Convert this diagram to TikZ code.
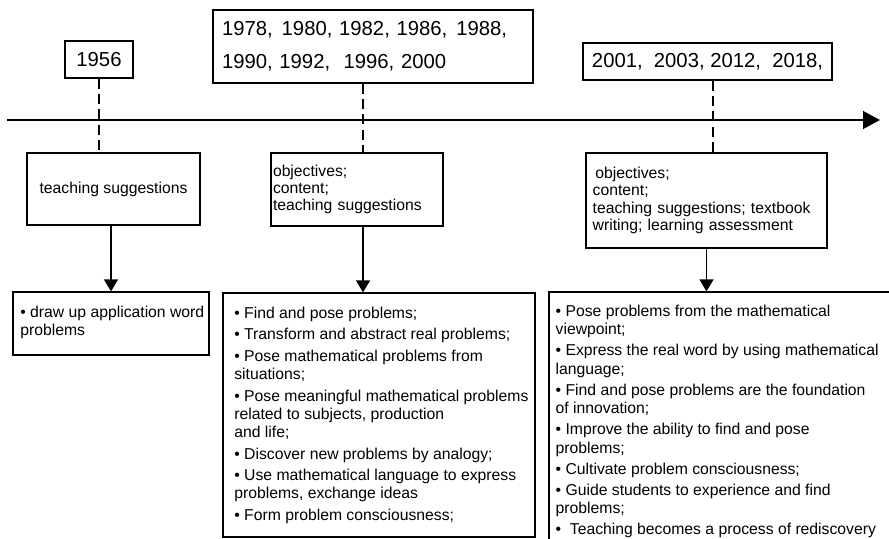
\documentclass[tikz,border=0pt]{standalone}
\usepackage{fontspec}
\setmainfont{Liberation Sans}
\usetikzlibrary{positioning,arrows.meta}

\begin{document}
\begin{tikzpicture}[x=0.75pt, y=-0.75pt, line width=0.9pt,
	every node/.style={font=\fontsize{11.8}{13}\selectfont},
	yr/.style={draw, font=\fontsize{15.2}{24.75}\selectfont, minimum height=27.75pt},
	mid/.style={draw, align=left},
	det/.style={draw},
	txt/.style={inner sep=0pt, align=left, font=\fontsize{11.8}{13.7}\selectfont},
	arr/.style={-{Triangle[width=10.5pt,length=9pt]}},
	axis/.style={-{Triangle[width=13.5pt,length=12.75pt]}},
	tick/.style={dash pattern=on 7.5pt off 4pt}]
	\useasboundingbox (0,0) rectangle (889,539);
	\coordinate (a0) at (7,120);
	\coordinate (a1) at (880,120);
	\coordinate (t1) at (99,120);
	\coordinate (t2) at (363,120);
	\coordinate (t3) at (713,120);
	\node[yr, minimum width=51pt] (y1) at (99,59.5) {1956};
	\node[yr, text width=226.5pt, inner xsep=6.75pt, align=left, minimum height=54.75pt] (y2) at (373,46.5) {1978,\hspace{1.7pt} 1980, 1982, 1986,\hspace{1.7pt} 1988,\\1990, 1992,\ \ 1996, 2000};
	\node[yr, minimum width=186.75pt] (y3) at (707.5,61.5) {2001,\ \ 2003, 2012,\ \ 2018,};
	\node[mid, minimum width=129.75pt, minimum height=54pt] (m1) at (113.5,189) {teaching suggestions};
	\node[mid, text width=126pt, inner xsep=1.5pt, minimum height=54.75pt] (m2) at (357,189.5) {objectives;\\content;\\teaching suggestions};
	\node[mid, text width=170.75pt, inner xsep=5pt, minimum height=71.25pt] (m3) at (706.5,200.5) {\hspace*{2pt}objectives;\\content;\\teaching suggestions; textbook\\writing; learning assessment};
	\node[det, minimum width=147pt, minimum height=47.25pt] (d1) at (111,323.5) {};
	\node[det, minimum width=234pt, minimum height=183pt] (d2) at (379,415) {};
	\node[det, minimum width=267pt, minimum height=201pt] (d3) at (727,426) {};
	\node[txt, below right=10.5pt and 5.5pt of d1.north west] (l1) {• draw up application word\\problems};
	\node[txt, below right=10.5pt and 8.5pt of d2.north west] (l2) {• Find and pose problems;\\[2.4pt]
		• Transform and abstract real problems;\\[2.4pt]
		• Pose mathematical problems from\\situations;\\[2.4pt]
		• Pose meaningful mathematical problems\\related to subjects, production\\and life;\\[2.4pt]
		• Discover new problems by analogy;\\[2.4pt]
		• Use mathematical language to express\\problems, exchange ideas\\[2.4pt]
		• Form problem consciousness;};
	\node[txt, below right=9.75pt and 5pt of d3.north west] (l3) {• Pose problems from the mathematical\\viewpoint;\\[2.2pt]
		• Express the real word by using mathematical\\language;\\[2.2pt]
		• Find and pose problems are the foundation\\of innovation;\\[2.2pt]
		• Improve the ability to find and pose\\problems;\\[2.2pt]
		• Cultivate problem consciousness;\\[2.2pt]
		• Guide students to experience and find\\problems;\\[2.2pt]
		•\ \ Teaching becomes a process of rediscovery};
	\draw[axis] (a0) -- (a1);
	\draw[tick] (t1 |- y1.south) -- (t1 |- m1.north);
	\draw[tick] (t2 |- y2.south) -- (t2 |- m2.north);
	\draw[tick] (t3 |- y3.south) -- (t3 |- m3.north);
	\draw[arr] (d1.north |- m1.south) -- (d1.north);
	\draw[arr] (t2 |- m2.south) -- (t2 |- d2.north);
	\draw[arr] (m3.south) -- (m3.south |- d3.north);
\end{tikzpicture}
\end{document}
